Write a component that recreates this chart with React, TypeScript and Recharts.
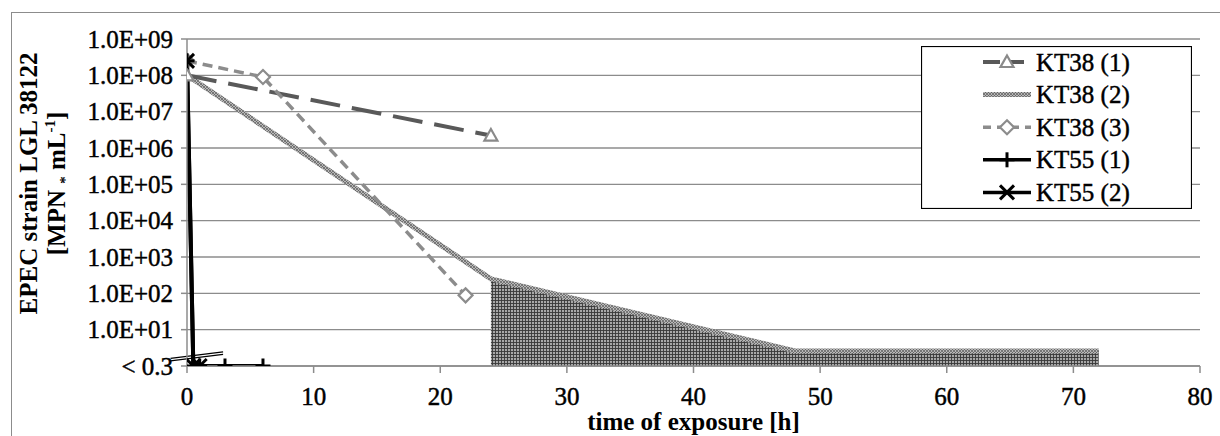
import React from 'react';
import {
  ComposedChart,
  Line,
  Area,
  XAxis,
  YAxis,
  CartesianGrid,
  Legend,
  ReferenceLine,
  Label,
} from 'recharts';

const FONT = 'Liberation Serif, Times New Roman, serif';

// "< 0.3" (below detection limit) is drawn on the axis floor, 1.0E+00
const BELOW = 1;

// ---- data (time in h, MPN per mL) ----
const kt38_1_x = [0, 24];
const kt38_1_y = [1.0e8, 2.2e6];
const kt38_2_x = [0, 24, 48, 72];
const kt38_2_y = [1.0e8, 2.5e2, 2.6, 2.6];
const kt38_3_x = [0, 6, 22];
const kt38_3_y = [2.5e8, 9.0e7, 88];
const kt55_1_x = [0, 0.5, 1, 3, 6];
const kt55_1_y = [2.5e8, BELOW, BELOW, BELOW, BELOW];
const kt55_2_x = [0, 0.5, 1];
const kt55_2_y = [2.5e8, BELOW, BELOW];
const shade_x = [24, 48, 72];
const shade_y = [2.5e2, 2.6, 2.6];

const xTicks = [0, 10, 20, 30, 40, 50, 60, 70, 80];
const yExponents = [0, 1, 2, 3, 4, 5, 6, 7, 8, 9];
const yTickLabels = [
  '< 0.3',
  '1.0E+01',
  '1.0E+02',
  '1.0E+03',
  '1.0E+04',
  '1.0E+05',
  '1.0E+06',
  '1.0E+07',
  '1.0E+08',
  '1.0E+09',
];
const minorMultipliers = [2, 3, 4, 5, 6, 7, 8, 9];

// axis-break symbol, in data units (h, log10)
const breakA = [
  { x: -1.3, y: 0.21 },
  { x: 2.85, y: 0.39 },
];
const breakB = [
  { x: -1.3, y: 0.14 },
  { x: 2.85, y: 0.32 },
];

const seriesDefs = [
  { key: 'k38_1', xs: kt38_1_x, ys: kt38_1_y },
  { key: 'k38_2', xs: kt38_2_x, ys: kt38_2_y },
  { key: 'k38_3', xs: kt38_3_x, ys: kt38_3_y },
  { key: 'k55_1', xs: kt55_1_x, ys: kt55_1_y },
  { key: 'k55_2', xs: kt55_2_x, ys: kt55_2_y },
  { key: 'shade', xs: shade_x, ys: shade_y },
];

const buildTable = () => {
  const xsAll: number[] = [];
  seriesDefs.forEach((s) => s.xs.forEach((x) => { if (!xsAll.includes(x)) xsAll.push(x); }));
  xsAll.sort((a, b) => a - b);
  return xsAll.map((x) => {
    const row: any = { x };
    seriesDefs.forEach((s) => {
      const i = s.xs.indexOf(x);
      row[s.key] = i >= 0 ? Math.log10(s.ys[i]) : null;
    });
    return row;
  });
};
const table = buildTable();

const minorTicks: number[] = [];
for (let e = 0; e < 9; e++) minorMultipliers.forEach((m) => minorTicks.push(e + Math.log10(m)));

const GRID = '#8c8c8c';
const TEXT_STROKE = 0.45;

const triangleShape = (cx: number, cy: number, k: any) => (
  <polygon
    key={k}
    points={`${cx},${cy - 6.5} ${cx + 6.5},${cy + 5} ${cx - 6.5},${cy + 5}`}
    fill="#fff"
    stroke="#8a8a8a"
    strokeWidth={2.2}
  />
);
const diamondShape = (cx: number, cy: number, k: any) => (
  <polygon
    key={k}
    points={`${cx},${cy - 7} ${cx + 7},${cy} ${cx},${cy + 7} ${cx - 7},${cy}`}
    fill="#fff"
    stroke="#8c8c8c"
    strokeWidth={2.2}
  />
);
const plusShape = (cx: number, cy: number, k: any) => (
  <g key={k} stroke="#000" strokeWidth={3}>
    <line x1={cx} y1={cy - 7.5} x2={cx} y2={cy + 7.5} />
    <line x1={cx - 7.5} y1={cy} x2={cx + 7.5} y2={cy} />
  </g>
);
const crossShape = (cx: number, cy: number, k: any) => (
  <g key={k} stroke="#000" strokeWidth={3}>
    <line x1={cx - 7} y1={cy - 7} x2={cx + 7} y2={cy + 7} />
    <line x1={cx - 7} y1={cy + 7} x2={cx + 7} y2={cy - 7} />
  </g>
);

const makeDot = (shape: (cx: number, cy: number, k: any) => any, tag: string) => (p: any) => {
  const k = `${tag}-${p.index}`;
  if (p.cx == null || p.cy == null || p.value == null || Number.isNaN(p.cy)) return <g key={k} />;
  return shape(p.cx, p.cy, k);
};

const legendRows = [
  { name: 'KT38 (1)', stroke: '#595959', width: 4, dash: '17 7', marker: triangleShape },
  { name: 'KT38 (2)', stroke: 'url(#hatchLine)', width: 5, dash: undefined, marker: null },
  { name: 'KT38 (3)', stroke: '#8c8c8c', width: 3.5, dash: '8 6', marker: diamondShape },
  { name: 'KT55 (1)', stroke: '#000', width: 3.5, dash: undefined, marker: plusShape },
  { name: 'KT55 (2)', stroke: '#000', width: 3.5, dash: undefined, marker: crossShape },
];

const LegendBox = () => (
  <svg width={271} height={163} style={{ display: 'block' }}>
    <rect x={0.5} y={0.5} width={270} height={162} fill="#fff" stroke="#000" strokeWidth={1.2} />
    {legendRows.map((r, i) => {
      const cy = 16 + i * 32.6;
      return (
        <g key={r.name}>
          <line x1={62} y1={cy} x2={110} y2={cy} stroke={r.stroke} strokeWidth={r.width} strokeDasharray={r.dash} />
          {r.marker ? r.marker(86, cy, `lm${i}`) : null}
          <text
            x={115}
            y={cy}
            dy="0.34em"
            fontFamily={FONT}
            fontSize={25}
            fill="#000"
            stroke="#000"
            strokeWidth={TEXT_STROKE}
          >
            {r.name}
          </text>
        </g>
      );
    })}
  </svg>
);

const YTick = (p: any) => (
  <text
    key={`yt-${p.index}`}
    x={p.x + 4}
    y={p.y}
    dy="0.34em"
    textAnchor="end"
    fontFamily={FONT}
    fontSize={25}
    fill="#000"
    stroke="#000"
    strokeWidth={TEXT_STROKE}
  >
    {yTickLabels[Math.round(p.payload.value)]}
  </text>
);

const XTick = (p: any) => (
  <text
    key={`xt-${p.index}`}
    x={p.x}
    y={p.y}
    dy="0.71em"
    textAnchor="middle"
    fontFamily={FONT}
    fontSize={25}
    fill="#000"
    stroke="#000"
    strokeWidth={TEXT_STROKE}
  >
    {p.payload.value}
  </text>
);

const YTitle = (props: any) => {
  const vb = props.viewBox || { x: 0, y: 0, width: 0, height: 0 };
  const cy = vb.y + vb.height / 2 - 19;
  return (
    <g fontFamily={FONT} fontWeight="bold" fontSize={25} fill="#000">
      <text transform={`translate(${vb.x + 37},${cy}) rotate(-90)`} textAnchor="middle">
        EPEC strain LGL 38122
      </text>
      <text transform={`translate(${vb.x + 65},${cy}) rotate(-90)`} textAnchor="middle">
        <tspan>[MPN </tspan>
        <tspan fontSize={15} dy={5}>*</tspan>
        <tspan dy={-5}> mL</tspan>
        <tspan fontSize={15} dy={-10}>-1</tspan>
        <tspan dy={10}>]</tspan>
      </text>
    </g>
  );
};

const XTitle = (props: any) => {
  const vb = props.viewBox || { x: 0, y: 0, width: 0, height: 0 };
  return (
    <text
      x={vb.x + vb.width / 2}
      y={vb.y + 64}
      textAnchor="middle"
      fontFamily={FONT}
      fontWeight="bold"
      fontSize={25}
      fill="#000"
    >
      time of exposure [h]
    </text>
  );
};

export default function App() {
  return (
    <div
      style={{
        position: 'absolute',
        left: 0,
        top: 0,
        width: 1220,
        height: 436,
        overflow: 'hidden',
        background: '#fff',
      }}
    >
      <div
        style={{
          position: 'absolute',
          left: 11,
          top: 12,
          width: 1400,
          height: 700,
          border: '1px solid #8c8c8c',
        }}
      />
      <div style={{ position: 'absolute', left: 0, top: 0 }}>
        <ComposedChart
          width={1220}
          height={436}
          data={table}
          margin={{ top: 39, right: 20, bottom: 0, left: 0 }}
        >
          <defs>
            <pattern id="hatchFill" width={3} height={3} patternUnits="userSpaceOnUse">
              <rect width={3} height={3} fill="#a8a8a8" />
              <path d="M0 0.5 H3 M0.5 0 V3" stroke="#383838" strokeWidth={0.9} />
            </pattern>
            <pattern id="hatchLine" width={3} height={3} patternUnits="userSpaceOnUse">
              <rect width={3} height={3} fill="#b8b8b8" />
              <path d="M0 0 L3 3 M3 0 L0 3" stroke="#5a5a5a" strokeWidth={0.7} />
            </pattern>
          </defs>
          <CartesianGrid yAxisId="main" horizontal vertical={false} stroke={GRID} strokeWidth={1.3} />
          <XAxis
            dataKey="x"
            type="number"
            domain={[0, 80]}
            ticks={xTicks}
            allowDataOverflow
            height={70}
            stroke={GRID}
            strokeWidth={1.5}
            tickSize={7}
            tickMargin={14}
            tick={XTick}
          >
            <Label content={XTitle} />
          </XAxis>
          <YAxis
            yAxisId="main"
            type="number"
            domain={[0, 9]}
            ticks={yExponents}
            allowDataOverflow
            width={187}
            stroke={GRID}
            strokeWidth={1.5}
            tickSize={6}
            tickMargin={12}
            tick={YTick}
          >
            <Label content={YTitle} />
          </YAxis>
          <YAxis
            yAxisId="minor"
            type="number"
            domain={[0, 9]}
            ticks={minorTicks}
            width={0}
            mirror
            axisLine={false}
            stroke="#999"
            tickSize={7}
            tick={(p: any) => <g key={`mt-${p.index}`} />}
          />
          <Area
            yAxisId="main"
            dataKey="shade"
            type="linear"
            connectNulls
            baseValue={0}
            fill="url(#hatchFill)"
            fillOpacity={1}
            stroke="#444"
            strokeWidth={1.5}
            dot={false}
            activeDot={false}
            legendType="none"
            isAnimationActive={false}
          />
          <Line
            yAxisId="main"
            dataKey="k38_2"
            name="KT38 (2)"
            type="linear"
            connectNulls
            stroke="url(#hatchLine)"
            strokeWidth={5}
            dot={false}
            activeDot={false}
            isAnimationActive={false}
          />
          <Line
            yAxisId="main"
            dataKey="k38_1"
            name="KT38 (1)"
            type="linear"
            connectNulls
            stroke="#595959"
            strokeWidth={4}
            strokeDasharray="30 12"
            dot={makeDot(triangleShape, 'tri')}
            activeDot={false}
            isAnimationActive={false}
          />
          <Line
            yAxisId="main"
            dataKey="k38_3"
            name="KT38 (3)"
            type="linear"
            connectNulls
            stroke="#8c8c8c"
            strokeWidth={3.5}
            strokeDasharray="10 6"
            dot={makeDot(diamondShape, 'dia')}
            activeDot={false}
            isAnimationActive={false}
          />
          <Line
            yAxisId="main"
            dataKey="k55_1"
            name="KT55 (1)"
            type="linear"
            connectNulls
            stroke="#000"
            strokeWidth={4}
            dot={makeDot(plusShape, 'plus')}
            activeDot={false}
            isAnimationActive={false}
          />
          <Line
            yAxisId="main"
            dataKey="k55_2"
            name="KT55 (2)"
            type="linear"
            connectNulls
            stroke="#000"
            strokeWidth={4}
            dot={makeDot(crossShape, 'cross')}
            activeDot={false}
            isAnimationActive={false}
          />
          <ReferenceLine yAxisId="main" segment={breakA} stroke="#000" strokeWidth={1.2} ifOverflow="visible" />
          <ReferenceLine yAxisId="main" segment={breakB} stroke="#000" strokeWidth={1.2} ifOverflow="visible" />
          <Legend
            layout="horizontal"
            verticalAlign="middle"
            align="center"
            content={LegendBox}
            wrapperStyle={{ position: 'absolute', left: 921, top: 46, width: 271, height: 163 }}
          />
        </ComposedChart>
      </div>
    </div>
  );
}
